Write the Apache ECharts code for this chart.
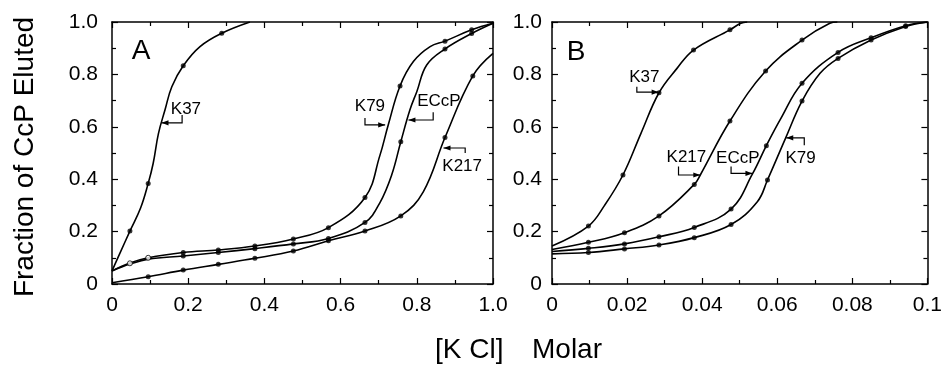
<!DOCTYPE html>
<html>
<head>
<meta charset="utf-8">
<script src="https://cdn.jsdelivr.net/npm/echarts@6/dist/echarts.min.js"></script>
<style>
html,body{margin:0;padding:0;background:#fff;}
#c{width:945px;height:367px;}
</style>
</head>
<body>
<div id="c"></div>
<script>
// ---------- tick labels ----------
const xTicksA = ['0', '0.2', '0.4', '0.6', '0.8', '1.0'];
const xTicksB = ['0', '0.02', '0.04', '0.06', '0.08', '0.1'];
const yTicks = ['0', '0.2', '0.4', '0.6', '0.8', '1.0'];

// ---------- Panel A: traced curves [KCl, fraction] ----------
const A_K37_curve = [[0,0.05],[0.02,0.115],[0.047,0.202],[0.075,0.29],[0.095,0.384],[0.108,0.46],[0.122,0.575],[0.139,0.664],[0.157,0.753],[0.187,0.833],[0.231,0.906],[0.288,0.957],[0.362,1.0]];
const A_K79_curve = [[0,0.05],[0.047,0.08],[0.095,0.10],[0.187,0.12],[0.279,0.13],[0.375,0.145],[0.476,0.172],[0.568,0.215],[0.664,0.33],[0.703,0.49],[0.725,0.607],[0.756,0.756],[0.791,0.849],[0.835,0.906],[0.874,0.927],[0.944,0.97],[1.0,0.995]];
const A_ECcP_curve = [[0,0.05],[0.047,0.076],[0.095,0.095],[0.187,0.107],[0.279,0.12],[0.375,0.135],[0.476,0.153],[0.568,0.174],[0.664,0.235],[0.703,0.31],[0.734,0.416],[0.758,0.543],[0.782,0.665],[0.8,0.734],[0.826,0.836],[0.874,0.897],[0.944,0.956],[1.0,0.995]];
const A_K217_curve = [[0,0.005],[0.095,0.028],[0.187,0.053],[0.279,0.075],[0.375,0.098],[0.476,0.126],[0.568,0.165],[0.664,0.202],[0.758,0.26],[0.817,0.352],[0.874,0.559],[0.947,0.794],[1.0,0.88]];

// Panel A: plotted points
const A_K37_pts = [[0.047,0.202],[0.095,0.384],[0.187,0.833],[0.288,0.957]];
const A_K79_pts = [[0.187,0.12],[0.279,0.13],[0.375,0.145],[0.476,0.172],[0.568,0.215],[0.664,0.33],[0.756,0.756],[0.874,0.927],[0.944,0.97]];
const A_ECcP_pts = [[0.187,0.107],[0.279,0.12],[0.375,0.135],[0.476,0.153],[0.568,0.174],[0.664,0.235],[0.758,0.543],[0.874,0.897],[0.944,0.956]];
const A_open_pts = [[0.047,0.079],[0.095,0.10]];
const A_K217_pts = [[0.095,0.028],[0.187,0.053],[0.279,0.075],[0.375,0.098],[0.476,0.126],[0.568,0.165],[0.664,0.202],[0.758,0.26],[0.874,0.559],[0.947,0.794]];

// ---------- Panel B: traced curves ----------
const B_K37_curve = [[0,0.145],[0.0097,0.221],[0.014,0.30],[0.0189,0.416],[0.0237,0.575],[0.0285,0.73],[0.0333,0.823],[0.0377,0.893],[0.0474,0.97],[0.0503,0.995],[0.052,1.0]];
const B_K217_curve = [[0,0.132],[0.0097,0.159],[0.0193,0.196],[0.0285,0.26],[0.0379,0.38],[0.0395,0.416],[0.0474,0.622],[0.0569,0.813],[0.0666,0.931],[0.074,0.995],[0.076,1.0]];
const B_ECcP_curve = [[0,0.124],[0.0097,0.136],[0.0193,0.153],[0.0285,0.18],[0.0379,0.216],[0.0477,0.286],[0.0534,0.42],[0.0571,0.528],[0.0609,0.63],[0.0666,0.766],[0.0762,0.884],[0.085,0.94],[0.0942,0.986],[0.1,1.0]];
const B_K79_curve = [[0,0.115],[0.0097,0.12],[0.0193,0.134],[0.0285,0.149],[0.0379,0.177],[0.0477,0.227],[0.0547,0.314],[0.0574,0.397],[0.0622,0.556],[0.0666,0.698],[0.0714,0.804],[0.0762,0.861],[0.085,0.931],[0.0942,0.983],[0.1,1.0]];

// Panel B: plotted points
const B_K37_pts = [[0.0097,0.221],[0.0189,0.416],[0.0285,0.73],[0.0377,0.893],[0.0474,0.97]];
const B_K217_pts = [[0.0097,0.159],[0.0193,0.196],[0.0285,0.26],[0.0379,0.38],[0.0474,0.622],[0.0569,0.813],[0.0666,0.931]];
const B_ECcP_pts = [[0.0097,0.136],[0.0193,0.153],[0.0285,0.18],[0.0379,0.216],[0.0477,0.286],[0.0571,0.528],[0.0666,0.766],[0.0762,0.884],[0.085,0.94],[0.0942,0.986]];
const B_K79_pts = [[0.0097,0.12],[0.0193,0.134],[0.0285,0.149],[0.0379,0.177],[0.0477,0.227],[0.0574,0.397],[0.0666,0.698],[0.0762,0.861],[0.085,0.931],[0.0942,0.983]];

// ---------- curve labels (text anchor + arrow path in data coords) ----------
const labelsA = [
  {text:'K37',  at:[0.194,0.668], path:[[0.184,0.645],[0.184,0.615],[0.130,0.615]]},
  {text:'K79',  at:[0.677,0.677], path:[[0.664,0.634],[0.664,0.607],[0.717,0.607]]},
  {text:'ECcP', at:[0.858,0.697], path:[[0.843,0.656],[0.843,0.626],[0.778,0.626]]},
  {text:'K217', at:[0.919,0.45],  path:[[0.927,0.50],[0.927,0.519],[0.870,0.519]]}
];
const labelsB = [
  {text:'K37',  at:[0.0246,0.788], path:[[0.0226,0.753],[0.0226,0.732],[0.0284,0.732]]},
  {text:'K217', at:[0.0358,0.483], path:[[0.0337,0.448],[0.0337,0.416],[0.0395,0.416]]},
  {text:'ECcP', at:[0.0495,0.479], path:[[0.0477,0.448],[0.0477,0.422],[0.0534,0.422]]},
  {text:'K79',  at:[0.0662,0.479], path:[[0.0672,0.530],[0.0672,0.558],[0.0624,0.558]]}
];

const FONT = 'Liberation Sans, Arial, Helvetica, sans-serif';
const chart = echarts.init(document.getElementById('c'), null, {renderer:'canvas'});

function xAxisDef(grid, max, interval, labels, pos, showLabel){
  return {
    type:'value', gridIndex:grid, min:0, max:max, interval:interval, position:pos,
    axisLine:{show:true, onZero:false, lineStyle:{color:'#000', width:1.5}},
    axisTick:{show:true, inside:true, length:6, lineStyle:{color:'#000', width:1.2}},
    minorTick:{show:true, splitNumber:2, length:4, lineStyle:{color:'#000', width:1.2}},
    splitLine:{show:false},
    axisLabel:{show:showLabel, color:'#000', fontSize:21, fontFamily:FONT, margin:11,
      formatter:function(v){ return labels[Math.round(v/interval)]; }}
  };
}
function yAxisDef(grid, pos, showLabel, margin){
  return {
    type:'value', gridIndex:grid, min:0, max:1, interval:0.2, position:pos,
    axisLine:{show:true, onZero:false, lineStyle:{color:'#000', width:1.5}},
    axisTick:{show:true, inside:true, length:6, lineStyle:{color:'#000', width:1.2}},
    minorTick:{show:true, splitNumber:2, length:4, lineStyle:{color:'#000', width:1.2}},
    splitLine:{show:false},
    axisLabel:{show:showLabel, color:'#000', fontSize:21, fontFamily:FONT, margin:margin,
      formatter:function(v){ return yTicks[Math.round(v/0.2)]; }}
  };
}

function lineS(data, xi, yi){
  return {type:'line', data:data, xAxisIndex:xi, yAxisIndex:yi, smooth:0.4,
    showSymbol:false, lineStyle:{color:'#000', width:1.6}, silent:true, z:3};
}
function dotS(data, xi, yi){
  return {type:'scatter', data:data, xAxisIndex:xi, yAxisIndex:yi, symbol:'circle', symbolSize:5,
    itemStyle:{color:'#000'}, silent:true, z:4};
}
function openS(data, xi, yi){
  return {type:'scatter', data:data, xAxisIndex:xi, yAxisIndex:yi, symbol:'circle', symbolSize:5,
    itemStyle:{color:'#fff', borderColor:'#000', borderWidth:1}, silent:true, z:4};
}

const option = {
  animation:false,
  backgroundColor:'#fff',
  grid:[
    {left:112, top:22, width:381, height:262, containLabel:false},
    {left:552, top:22, width:380, height:262, containLabel:false}
  ],
  xAxis:[
    xAxisDef(0, 1, 0.2, xTicksA, 'bottom', true),
    xAxisDef(1, 0.1, 0.02, xTicksB, 'bottom', true),
    xAxisDef(0, 1, 0.2, xTicksA, 'top', false),
    xAxisDef(1, 0.1, 0.02, xTicksB, 'top', false)
  ],
  yAxis:[
    yAxisDef(0, 'left', true, 14),
    yAxisDef(1, 'left', true, 10),
    yAxisDef(0, 'right', false, 10),
    yAxisDef(1, 'right', false, 10)
  ],
  series:[
    lineS(A_K37_curve,0,0), lineS(A_K79_curve,0,0), lineS(A_ECcP_curve,0,0), lineS(A_K217_curve,0,0),
    dotS(A_K37_pts,0,0), dotS(A_K79_pts,0,0), dotS(A_ECcP_pts,0,0), dotS(A_K217_pts,0,0), openS(A_open_pts,0,0),
    lineS(B_K37_curve,1,1), lineS(B_K217_curve,1,1), lineS(B_ECcP_curve,1,1), lineS(B_K79_curve,1,1),
    dotS(B_K37_pts,1,1), dotS(B_K217_pts,1,1), dotS(B_ECcP_pts,1,1), dotS(B_K79_pts,1,1)
  ]
};
chart.setOption(option);

// ---------- annotations ----------
const g = [];
function addLabels(list, gridIndex){
  list.forEach(function(L){
    const p = chart.convertToPixel({gridIndex:gridIndex}, L.at);
    g.push({type:'text', x:p[0], y:p[1], z:10, silent:true,
      style:{text:L.text, fill:'#000', font:'17px ' + FONT, textAlign:'center', textVerticalAlign:'middle'}});
    const pts = L.path.map(function(d){ return chart.convertToPixel({gridIndex:gridIndex}, d); });
    g.push({type:'polyline', z:10, silent:true, shape:{points:pts}, style:{stroke:'#000', lineWidth:1.2, fill:null}});
    const tip = pts[pts.length-1], prev = pts[pts.length-2];
    const dir = tip[0] > prev[0] ? 1 : -1;
    g.push({type:'polygon', z:10, silent:true,
      shape:{points:[[tip[0], tip[1]], [tip[0]-dir*7, tip[1]-2.6], [tip[0]-dir*7, tip[1]+2.6]]},
      style:{fill:'#000'}});
  });
}
addLabels(labelsA, 0);
addLabels(labelsB, 1);

// panel letters
g.push({type:'text', x:141, y:51, silent:true, style:{text:'A', fill:'#000', font:'28px ' + FONT, textAlign:'center', textVerticalAlign:'middle'}});
g.push({type:'text', x:576, y:52, silent:true, style:{text:'B', fill:'#000', font:'28px ' + FONT, textAlign:'center', textVerticalAlign:'middle'}});
// axis titles
g.push({type:'text', x:25, y:157, rotation:Math.PI/2, silent:true,
  style:{text:'Fraction of CcP Eluted', fill:'#000', font:'28px ' + FONT, textAlign:'center', textVerticalAlign:'middle'}});
g.push({type:'text', x:435, y:350, silent:true, style:{text:'[K Cl]', fill:'#000', font:'28px ' + FONT, textAlign:'left', textVerticalAlign:'middle'}});
g.push({type:'text', x:532, y:350, silent:true, style:{text:'Molar', fill:'#000', font:'28px ' + FONT, textAlign:'left', textVerticalAlign:'middle'}});

chart.setOption({graphic:g});
</script>
</body>
</html>
